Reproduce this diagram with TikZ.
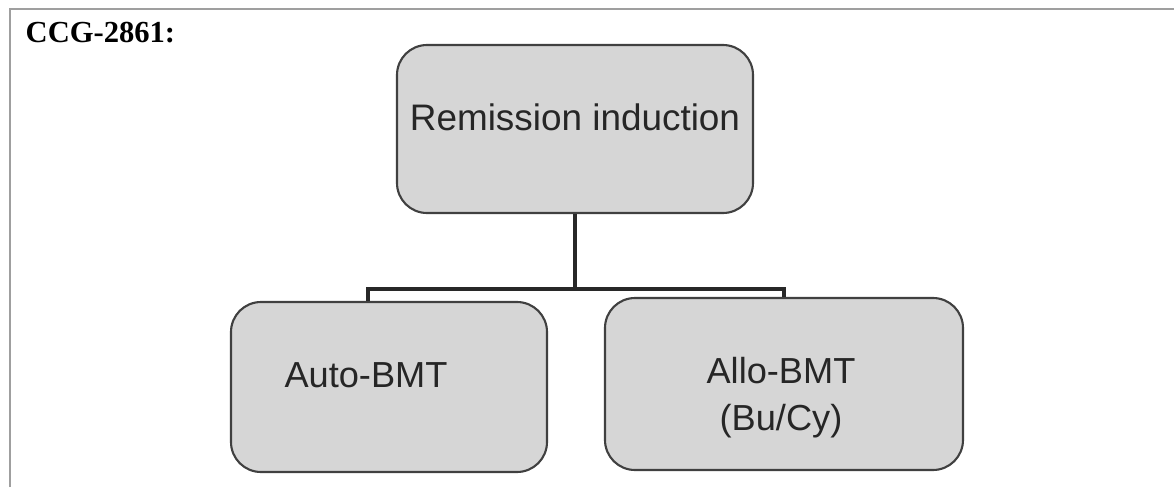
\documentclass[tikz,border=0pt]{standalone}
\usepackage{fontspec}
\setmainfont{Liberation Sans}
\newfontfamily\headfont{Liberation Serif}
\usepackage{tikz}
\usetikzlibrary{positioning,calc}

\definecolor{boxfill}{RGB}{214,214,214}
\definecolor{boxline}{RGB}{64,64,64}
\definecolor{linkcol}{RGB}{40,40,40}

\tikzset{
  stage/.style={draw=boxline, line width=0.6pt, fill=boxfill,
    rounded corners=0.3cm, inner sep=0pt},
  caption/.style={inner sep=0pt, align=center,
    font=\fontsize{10.3}{13.3}\selectfont, text=black!85},
  link/.style={draw=linkcol, line width=1.15pt, line join=miter},
  frame/.style={draw=gray!75, line width=0.6pt}
}

\begin{document}
\begin{tikzpicture}
    \useasboundingbox (0,0) rectangle (11.74,4.87);
    % outer frame (top and left only)
    \draw[frame] (0.10,0) |- (11.74,4.78);
    \node[anchor=base west, inner sep=0pt, font=\headfont\bfseries\fontsize{8.7}{10}\selectfont]
      (title) at (0.25,4.45) {CCG-2861:};
    % boxes
    \node[stage, minimum width=3.56cm, minimum height=1.68cm] (induct) at (5.75,3.58) {};
    \node[stage, minimum width=3.16cm, minimum height=1.70cm] (auto) at (3.89,1.00) {};
    \node[stage, minimum width=3.58cm, minimum height=1.72cm] (allo) at (7.84,1.03) {};
    \node[caption, font=\fontsize{10.5}{13}\selectfont] (inductlbl) at (5.75,3.70) {Remission induction};
    \node[caption] (autolbl) at (3.66,1.12) {Auto-BMT};
    \node[caption] (allolbl) at (7.81,0.89) {Allo-BMT\\(Bu/Cy)};
    % connectors
    \coordinate (bar) at (5.75,1.98);
    \draw[link] (induct.south) -- (bar);
    \draw[link] (auto.north -| 3.68,0) |- (bar) -| (allo.north);
\end{tikzpicture}
\end{document}
